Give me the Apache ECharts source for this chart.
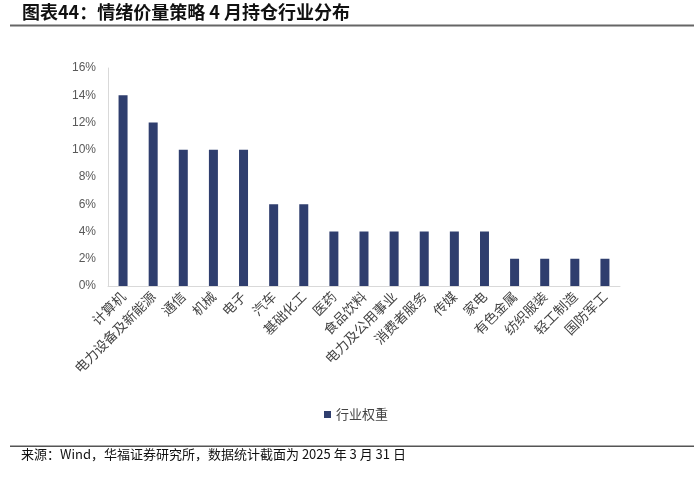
<!DOCTYPE html>
<html><head><meta charset="utf-8">
<script src="https://cdn.jsdelivr.net/npm/echarts@6/dist/echarts.min.js"></script>
<style>html,body{margin:0;padding:0;background:#fff}#c{width:700px;height:477px}</style>
</head><body><div id="c"></div>
<script>
const categories = ['计算机','电力设备及新能源','通信','机械','电子','汽车','基础化工','医药','食品饮料','电力及公用事业','消费者服务','传媒','家电','有色金属','纺织服装','轻工制造','国防军工'];
const weights = [14,12,10,10,10,6,6,4,4,4,4,4,4,2,2,2,2];
const yTicks = [0,2,4,6,8,10,12,14,16];
const seriesName = '行业权重';
const titleText = '图表44：情绪价量策略 4 月持仓行业分布';
const sourceText = '来源：Wind，华福证券研究所，数据统计截面为 2025 年 3 月 31 日';

const chart = echarts.init(document.getElementById('c'), null, {renderer:'canvas'});
chart.setOption({
  animation:false,
  backgroundColor:'#fff',
  graphic:[
    {type:'text', left:22, top:3, style:{text:titleText, font:'bold 18px "Noto Sans CJK SC"', fill:'#111'}},
    {type:'rect', shape:{x:10,y:24.5,width:684,height:2}, style:{fill:'#666'}},
    {type:'rect', shape:{x:10,y:445.5,width:684,height:1.5}, style:{fill:'#555'}},
    {type:'text', left:21, top:448, style:{text:sourceText, font:'13px "Noto Sans CJK SC"', fill:'#111'}}
  ],
  legend:{
    data:[seriesName], left:319, top:403, itemWidth:7, itemHeight:7, itemGap:5,
    icon:'rect', textStyle:{fontSize:13, color:'#444', fontFamily:'Noto Sans CJK SC'}
  },
  grid:{left:108, right:80, top:68, bottom:191, containLabel:false},
  xAxis:{
    type:'category', data:categories,
    axisLine:{show:true, lineStyle:{color:'#d9d9d9'}},
    axisTick:{show:false},
    axisLabel:{rotate:45, interval:0, fontSize:13.5, color:'#444', fontFamily:'Noto Sans CJK SC', margin:8}
  },
  yAxis:{
    type:'value', min:0, max:16, interval:2,
    axisLine:{show:true, lineStyle:{color:'#d9d9d9'}},
    axisTick:{show:false},
    splitLine:{show:false},
    axisLabel:{formatter: v => yTicks.includes(v) ? v + '%' : '', fontSize:12, color:'#595959', fontFamily:'Liberation Sans', margin:12}
  },
  series:[{
    name:seriesName, type:'bar', data:weights, barWidth:9,
    itemStyle:{color:'#2F3E6E'}
  }]
});
</script></body></html>
